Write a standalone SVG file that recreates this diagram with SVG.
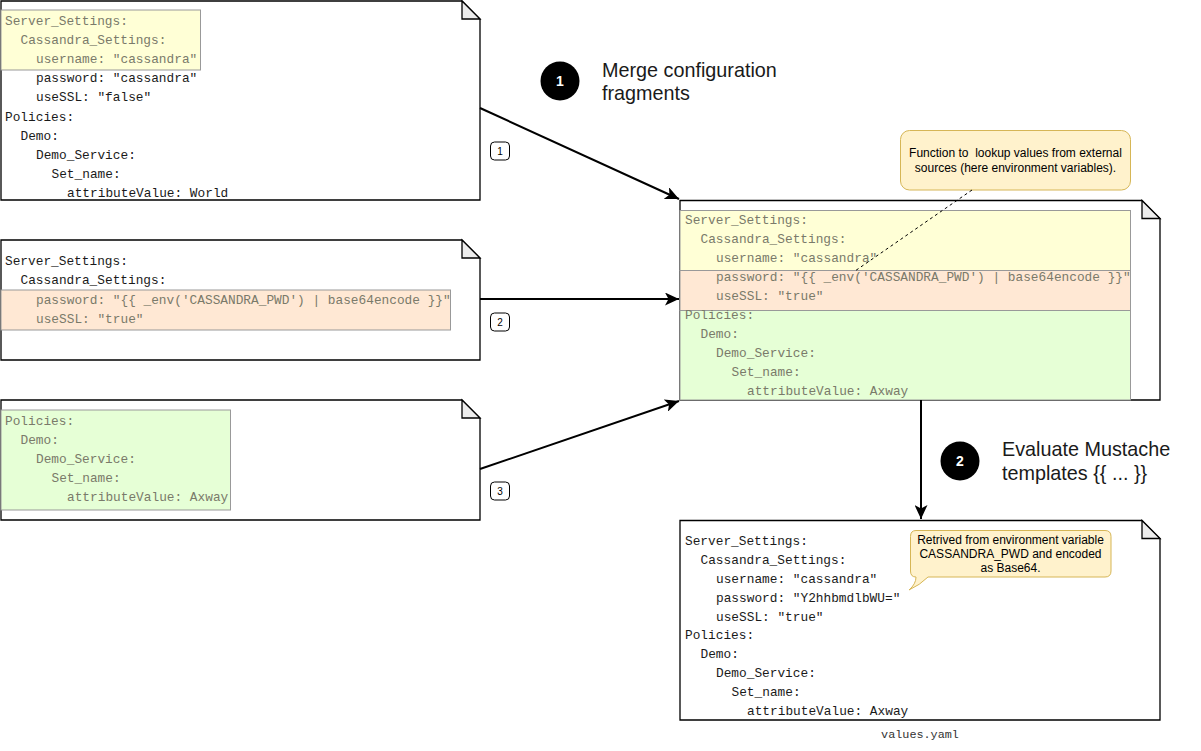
<svg xmlns="http://www.w3.org/2000/svg" width="1201" height="751" viewBox="0 0 1201 751">
<style>
.note{fill:#fff;stroke:#000;stroke-width:1.3}
.fold{fill:#ececec;stroke:#000;stroke-width:1.3}
.code{font-family:"Liberation Mono",monospace;font-size:12.8px;fill:#1a1a1a}
.dim{fill:#7a7a6a}
.hy{fill:#ffffd6;stroke:#999;stroke-width:1}
.ho{fill:#ffe8d4;stroke:#999;stroke-width:1}
.hg{fill:#e6ffd6;stroke:#999;stroke-width:1}
.conn{stroke:#000;stroke-width:2;fill:none}
.badge{fill:#fff;stroke:#000;stroke-width:1}
.badget{font-family:"Liberation Sans",Arial,sans-serif;font-size:10px;fill:#000;text-anchor:middle}
.step{fill:#000}
.stept{font-family:"Liberation Sans",Arial,sans-serif;font-size:14px;font-weight:bold;fill:#fff;text-anchor:middle}
.big{font-family:"Liberation Sans",Arial,sans-serif;font-size:19.8px;fill:#1a1a1a}
.call{fill:#fff2cc;stroke:#d6b656;stroke-width:1}
.callt{font-family:"Liberation Sans",Arial,sans-serif;font-size:12px;fill:#000;text-anchor:middle;white-space:pre}
</style>
<defs>
<marker id="arr" markerUnits="userSpaceOnUse" markerWidth="15" markerHeight="13" refX="14" refY="6.5" orient="auto">
<path d="M0,0 L14,6.5 L0,13 L3.5,6.5 Z" fill="#000"/>
</marker>
</defs>

<g id="fragment1">
<path class="note" d="M1,1 H462 L480,19 V200 H1 Z"/>
<path class="fold" d="M462,1 V19 H480 Z"/>
<rect class="hy" x="1" y="10" width="199.5" height="60"/>
<text class="code dim" x="5" y="24.5">Server_Settings:</text>
<text class="code dim" x="20.5" y="43.7">Cassandra_Settings:</text>
<text class="code dim" x="36" y="62.9">username: "cassandra"</text>
<text class="code" x="36" y="82.1">password: "cassandra"</text>
<text class="code" x="36" y="101.3">useSSL: "false"</text>
<text class="code" x="5" y="120.5">Policies:</text>
<text class="code" x="20.5" y="139.7">Demo:</text>
<text class="code" x="36" y="158.9">Demo_Service:</text>
<text class="code" x="51.5" y="178.1">Set_name:</text>
<text class="code" x="67" y="197.3">attributeValue: World</text>
</g>

<g id="fragment2">
<path class="note" d="M1,240 H462 L480,258 V360 H1 Z"/>
<path class="fold" d="M462,240 V258 H480 Z"/>
<rect class="ho" x="1" y="290" width="449.5" height="40"/>
<text class="code" x="5" y="264.5">Server_Settings:</text>
<text class="code" x="20.5" y="284">Cassandra_Settings:</text>
<text class="code dim" x="36" y="303.5">password: "{{ _env('CASSANDRA_PWD') | base64encode }}"</text>
<text class="code dim" x="36" y="323">useSSL: "true"</text>
</g>

<g id="fragment3">
<path class="note" d="M1,400 H462 L480,418 V520 H1 Z"/>
<path class="fold" d="M462,400 V418 H480 Z"/>
<rect class="hg" x="1" y="410" width="229.5" height="100"/>
<text class="code dim" x="5" y="424.5">Policies:</text>
<text class="code dim" x="20.5" y="443.8">Demo:</text>
<text class="code dim" x="36" y="463">Demo_Service:</text>
<text class="code dim" x="51.5" y="482.2">Set_name:</text>
<text class="code dim" x="67" y="501.4">attributeValue: Axway</text>
</g>

<g id="badges">
<rect class="badge" x="490.5" y="142" width="19" height="18" rx="4"/>
<text class="badget" x="500" y="154.5">1</text>
<rect class="badge" x="490.5" y="313" width="19" height="18" rx="4"/>
<text class="badget" x="500" y="325.5">2</text>
<rect class="badge" x="490.5" y="482" width="19" height="18" rx="4"/>
<text class="badget" x="500" y="494.5">3</text>
</g>

<g id="step1">
<circle class="step" cx="560" cy="81" r="19.5"/>
<text class="stept" x="560" y="86">1</text>
<text class="big" x="602" y="76.5">Merge configuration</text>
<text class="big" x="602" y="99.5">fragments</text>
</g>

<g id="merged">
<path class="note" d="M680,200.5 H1142 L1160,218.5 V400 H680 Z"/>
<path class="fold" d="M1142,200.5 V218.5 H1160 Z"/>
<rect class="hy" x="680" y="210.5" width="450.5" height="60"/>
<rect class="ho" x="680" y="270.5" width="450.5" height="40"/>
<rect class="hg" x="680" y="310.5" width="450.5" height="89.5"/>
<text class="code dim" x="685" y="223.8">Server_Settings:</text>
<text class="code dim" x="700.5" y="242.8">Cassandra_Settings:</text>
<text class="code dim" x="716" y="261.8">username: "cassandra"</text>
<text class="code dim" x="716" y="280.8">password: "{{ _env('CASSANDRA_PWD') | base64encode }}"</text>
<text class="code dim" x="716" y="299.8">useSSL: "true"</text>
<text class="code dim" x="685" y="318.8">Policies:</text>
<text class="code dim" x="700.5" y="337.8">Demo:</text>
<text class="code dim" x="716" y="356.8">Demo_Service:</text>
<text class="code dim" x="731.5" y="375.8">Set_name:</text>
<text class="code dim" x="747" y="394.8">attributeValue: Axway</text>
</g>

<g id="callout-env">
<rect class="call" x="900.5" y="130.5" width="230" height="59.5" rx="9"/>
<text class="callt" x="1015.5" y="156.5" xml:space="preserve">Function to  lookup values from external</text>
<text class="callt" x="1015.5" y="171.5">sources (here environment variables).</text>
</g>

<g id="step2">
<circle class="step" cx="960" cy="461" r="19.5"/>
<text class="stept" x="960" y="466">2</text>
<text class="big" x="1002" y="455.5">Evaluate Mustache</text>
<text class="big" x="1002" y="479.5">templates {{ ... }}</text>
</g>

<g id="values">
<path class="note" d="M680,520.5 H1142 L1160,538.5 V720 H680 Z"/>
<path class="fold" d="M1142,520.5 V538.5 H1160 Z"/>
<text class="code" x="685" y="544.5">Server_Settings:</text>
<text class="code" x="700.5" y="563.5">Cassandra_Settings:</text>
<text class="code" x="716" y="582.5">username: "cassandra"</text>
<text class="code" x="716" y="601.5">password: "Y2hhbmdlbWU="</text>
<text class="code" x="716" y="620.5">useSSL: "true"</text>
<text class="code" x="685" y="639">Policies:</text>
<text class="code" x="700.5" y="658">Demo:</text>
<text class="code" x="716" y="677">Demo_Service:</text>
<text class="code" x="731.5" y="696">Set_name:</text>
<text class="code" x="747" y="715">attributeValue: Axway</text>
<text x="920" y="738" font-family="'Liberation Mono',monospace" font-size="11.8px" fill="#333" text-anchor="middle">values.yaml</text>
</g>

<g id="callout-base64">
<path class="call" d="M916,530.5 H1105 Q1111,530.5 1111,536.5 V571 Q1111,577 1105,577 H928 Q920,585 909,590 Q916,584 916,577 Q910.5,577 910.5,571 V536.5 Q910.5,530.5 916,530.5 Z"/>
<text class="callt" x="1010.5" y="544" font-size="12.5px">Retrived from environment variable</text>
<text class="callt" x="1010.5" y="558" font-size="12.5px">CASSANDRA_PWD and encoded</text>
<text class="callt" x="1010.5" y="572" font-size="12.5px">as Base64.</text>
</g>

<g id="connectors">
<line class="conn" x1="480" y1="108" x2="679" y2="199" marker-end="url(#arr)"/>
<line class="conn" x1="480" y1="299" x2="679" y2="299" marker-end="url(#arr)"/>
<line class="conn" x1="480" y1="469" x2="679" y2="401" marker-end="url(#arr)"/>
<line class="conn" x1="921" y1="400" x2="921" y2="519" marker-end="url(#arr)"/>
<line x1="972" y1="190" x2="855" y2="271" stroke="#000" stroke-width="1" stroke-dasharray="3 3"/>
</g>
</svg>
